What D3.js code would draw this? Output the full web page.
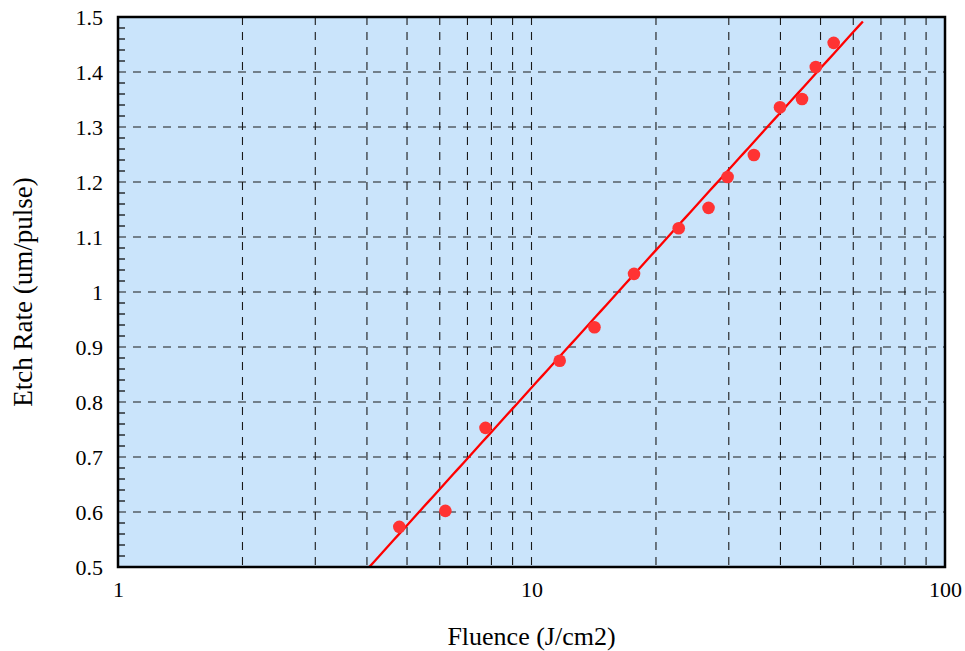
<!DOCTYPE html>
<html>
<head>
<meta charset="utf-8">
<script src="https://cdn.jsdelivr.net/npm/d3@7"></script>
<style>
  html, body { margin: 0; padding: 0; background: #fff; }
  svg { display: block; }
  text { font-family: "Liberation Serif", "Times New Roman", serif; fill: #000; }
</style>
</head>
<body>
<svg id="chart" width="965" height="651"></svg>
<script>
// ---- data ----
const fluence = [4.79, 6.19, 7.74, 11.7, 14.2, 17.7, 22.7, 26.8, 29.8, 34.5, 39.9, 45.1, 48.7, 53.8];
const etchRate = [0.573, 0.602, 0.753, 0.875, 0.936, 1.033, 1.116, 1.153, 1.209, 1.249, 1.336, 1.351, 1.409, 1.453];
// fitted line: etch = fitIntercept + fitSlope * log10(fluence)
const fitSlope = 0.831;
const fitIntercept = -0.005;
const fitRange = [4.05, 63.3];
const xTickLabels = [1, 10, 100];
const yTickLabels = [0.5, 0.6, 0.7, 0.8, 0.9, 1, 1.1, 1.2, 1.3, 1.4, 1.5];
const xDomain = [1, 100];
const yDomain = [0.5, 1.5];
const xTitle = "Fluence (J/cm2)";
const yTitle = "Etch Rate (um/pulse)";

// ---- layout ----
const pL = 118, pR = 945, pT = 17, pB = 567;
const svg = d3.select("#chart");

const x = d3.scaleLog().domain(xDomain).range([pL, pR]);
const y = d3.scaleLinear().domain(yDomain).range([pB, pT]);

// background
svg.append("rect")
  .attr("x", pL).attr("y", pT)
  .attr("width", pR - pL).attr("height", pB - pT)
  .attr("fill", "#cae4fb");

// vertical grid (log minor + major)
const xGrid = [];
for (let d = 1; d < 100; d *= 10) {
  for (let k = 1; k <= 9; k++) {
    const v = d * k;
    if (v > xDomain[0] && v < xDomain[1]) xGrid.push(v);
  }
}
svg.append("g").selectAll("line").data(xGrid).join("line")
  .attr("x1", d => x(d)).attr("x2", d => x(d))
  .attr("y1", pT).attr("y2", pB)
  .attr("stroke", "#1a1a1a").attr("stroke-width", 1.1)
  .attr("stroke-dasharray", "8,7");

// horizontal grid
const yGrid = yTickLabels.filter(v => v > yDomain[0] && v < yDomain[1]);
svg.append("g").selectAll("line").data(yGrid).join("line")
  .attr("x1", pL).attr("x2", pR)
  .attr("y1", d => y(d)).attr("y2", d => y(d))
  .attr("stroke", "#1a1a1a").attr("stroke-width", 1.1)
  .attr("stroke-dasharray", "8,7");

// y minor ticks (inside)
const yMinor = d3.range(0, 51).map(i => 0.5 + i * 0.02).filter(v => Math.abs(v * 10 - Math.round(v * 10)) > 1e-6);
svg.append("g").selectAll("line").data(yMinor).join("line")
  .attr("x1", pL).attr("x2", pL + 7)
  .attr("y1", d => y(d)).attr("y2", d => y(d))
  .attr("stroke", "#000").attr("stroke-width", 1.2);

// fit line
const fitPts = d3.range(0, 101).map(i => {
  const lx = Math.log10(fitRange[0]) + (Math.log10(fitRange[1]) - Math.log10(fitRange[0])) * i / 100;
  return [Math.pow(10, lx), fitIntercept + fitSlope * lx];
});
svg.append("path")
  .datum(fitPts)
  .attr("fill", "none")
  .attr("stroke", "#ff0000")
  .attr("stroke-width", 2.3)
  .attr("d", d3.line().x(d => x(d[0])).y(d => y(d[1])));

// points
svg.append("g").selectAll("circle").data(fluence.map((f, i) => [f, etchRate[i]])).join("circle")
  .attr("cx", d => x(d[0])).attr("cy", d => y(d[1]))
  .attr("r", 6.3)
  .attr("fill", "#ff3333");

// frame
svg.append("rect")
  .attr("x", pL).attr("y", pT)
  .attr("width", pR - pL).attr("height", pB - pT)
  .attr("fill", "none").attr("stroke", "#000").attr("stroke-width", 2.5);

// axes (labels only)
const xAxis = d3.axisBottom(x).tickValues(xTickLabels).tickFormat(d3.format("d")).tickSize(0).tickPadding(14);
const gx = svg.append("g").attr("transform", `translate(0,${pB})`).call(xAxis);
gx.select(".domain").remove();
gx.selectAll("text").style("font-size", "22px").style("font-family", "'Liberation Serif', serif").attr("fill", "#000");

const yAxis = d3.axisLeft(y).tickValues(yTickLabels).tickFormat(d => String(+d.toFixed(1))).tickSize(0).tickPadding(15);
const gy = svg.append("g").attr("transform", `translate(${pL},0)`).call(yAxis);
gy.select(".domain").remove();
gy.selectAll("text").style("font-size", "22px").style("font-family", "'Liberation Serif', serif").attr("fill", "#000");

// titles
svg.append("text")
  .attr("x", (pL + pR) / 2).attr("y", 645)
  .attr("text-anchor", "middle")
  .style("font-size", "26px")
  .text(xTitle);

svg.append("text")
  .attr("transform", `translate(32,${(pT + pB) / 2}) rotate(-90)`)
  .attr("text-anchor", "middle")
  .style("font-size", "27px")
  .text(yTitle);
</script>
</body>
</html>
